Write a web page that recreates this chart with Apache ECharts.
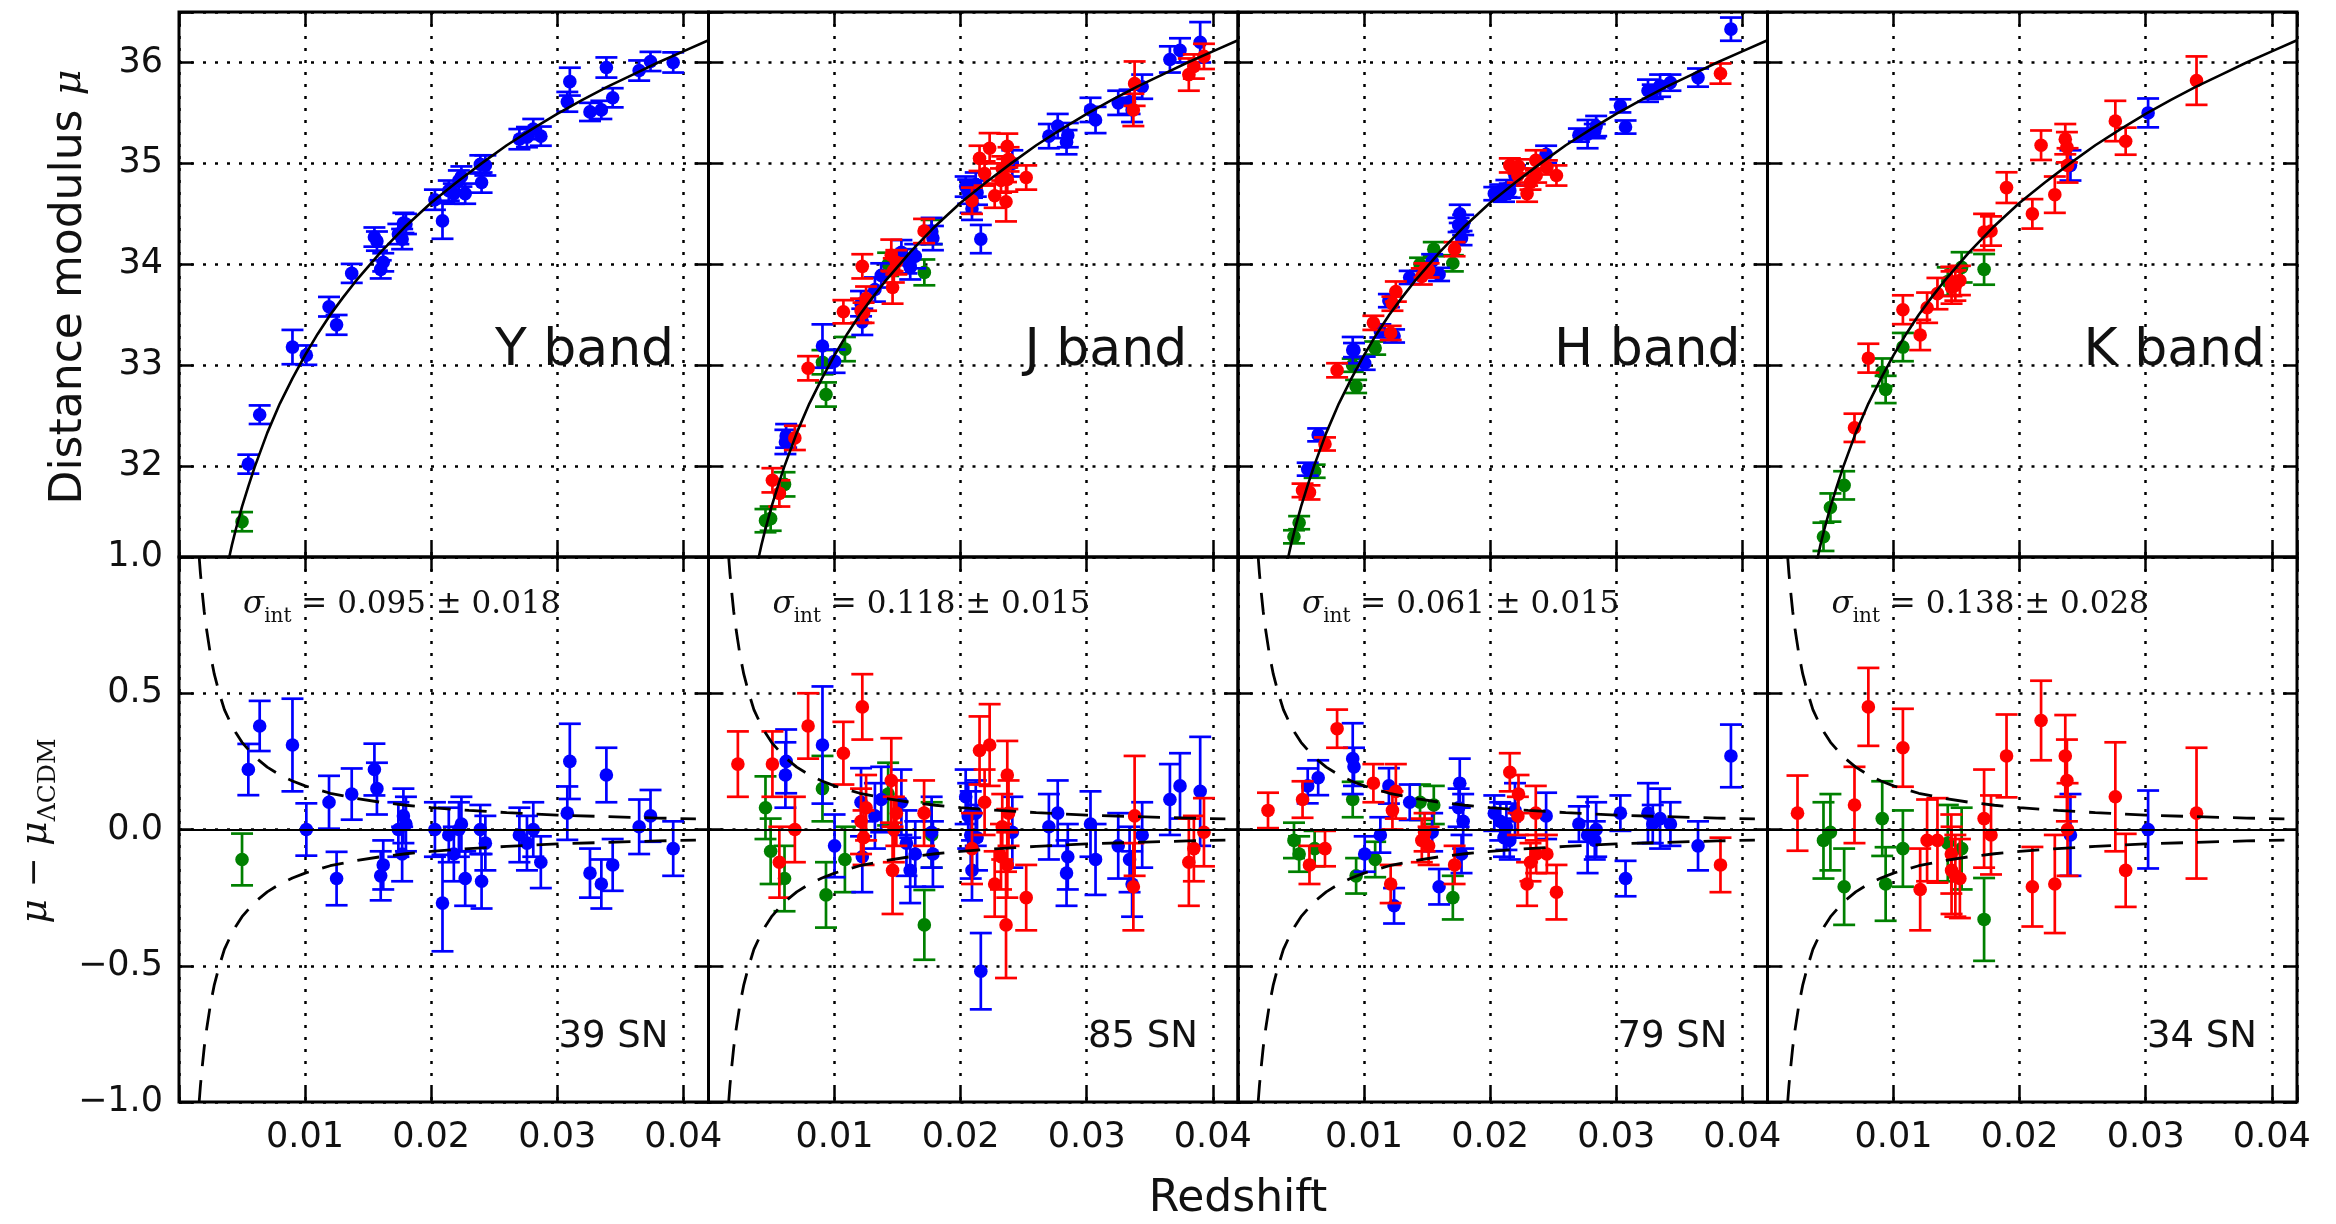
<!DOCTYPE html>
<html><head><meta charset="utf-8">
<script src="https://cdn.jsdelivr.net/npm/echarts@6/dist/echarts.min.js"></script>
<style>html,body{margin:0;padding:0;background:#fff}#c{width:2336px;height:1224px}</style>
</head><body><div id="c"></div>
<script>
// ---------- tick labels ----------
const topTicks = [32, 33, 34, 35, 36];
const resTicks = [-1.0, -0.5, 0.0, 0.5, 1.0];
const zTicks = [0.01, 0.02, 0.03, 0.04];

// ---------- model curves ----------
const modelZ  = [0.0039,0.0042,0.0045,0.005,0.0055,0.006,0.007,0.008,0.009,0.010,0.011,0.012,0.013,0.014,0.016,0.018,0.020,0.022,0.024,0.026,0.028,0.030,0.032,0.034,0.036,0.038,0.040,0.042];
const modelMu = [31.05,31.22,31.37,31.60,31.80,31.99,32.33,32.62,32.87,33.10,33.31,33.50,33.67,33.83,34.12,34.38,34.61,34.81,35.00,35.18,35.34,35.49,35.63,35.76,35.88,36.00,36.11,36.22];
const pecZ  = [0.0016,0.0017,0.0018,0.002,0.0022,0.0025,0.0028,0.0032,0.0036,0.004,0.0045,0.005,0.006,0.007,0.008,0.009,0.010,0.012,0.014,0.016,0.018,0.020,0.023,0.026,0.030,0.034,0.038,0.041];
const pecUp = [1.00,0.94,0.89,0.80,0.73,0.64,0.57,0.50,0.44,0.40,0.356,0.32,0.267,0.229,0.20,0.178,0.16,0.133,0.114,0.10,0.089,0.08,0.07,0.062,0.053,0.047,0.042,0.039];
const pecLo = [-1.00,-0.94,-0.89,-0.80,-0.73,-0.64,-0.57,-0.50,-0.44,-0.40,-0.356,-0.32,-0.267,-0.229,-0.20,-0.178,-0.16,-0.133,-0.114,-0.10,-0.089,-0.08,-0.07,-0.062,-0.053,-0.047,-0.042,-0.039];

// ---------- Y band ----------
const Y_green_z = [0.0050];
const Y_green_mu = [31.45];
const Y_green_res = [-0.11];
const Y_green_err = [0.095];
const Y_blue_z = [0.0055,0.0064,0.0090,0.0101,0.0119,0.0125,0.0137,0.0155,0.0157,0.0160,0.0162,0.0174,0.0177,0.0178,0.0180,0.0203,0.0209,0.0214,0.0218,0.0222,0.0224,0.0227,0.0239,0.0240,0.0243,0.0270,0.0276,0.0281,0.0287,0.0308,0.0310,0.0326,0.0335,0.0339,0.0344,0.0365,0.0374,0.0392];
const Y_blue_res = [0.22,0.38,0.31,0.0,0.10,-0.18,0.13,0.22,0.15,-0.17,-0.13,0.0,-0.09,0.05,0.02,0.0,-0.27,-0.02,-0.09,0.0,0.02,-0.18,0.0,-0.19,-0.05,-0.02,-0.05,0.0,-0.12,0.06,0.25,-0.16,-0.20,0.20,-0.13,0.01,0.05,-0.07];
const Y_blue_mu = [32.02,32.51,33.18,33.10,33.58,33.40,33.91,34.27,34.23,33.95,34.02,34.30,34.25,34.41,34.40,34.64,34.43,34.73,34.70,34.83,34.87,34.70,34.99,34.81,34.98,35.24,35.26,35.34,35.27,35.61,35.81,35.51,35.53,35.95,35.65,35.92,36.01,36.00];
const Y_blue_err = [0.094,0.092,0.17,0.096,0.097,0.098,0.094,0.095,0.095,0.09,0.09,0.1,0.1,0.1,0.1,0.1,0.177,0.1,0.1,0.1,0.1,0.1,0.09,0.1,0.1,0.1,0.1,0.1,0.095,0.098,0.138,0.09,0.09,0.1,0.095,0.1,0.095,0.1];

// ---------- J band ----------
const J_red_z = [0.00233,0.00507,0.00562,0.00685,0.0079,0.0107,0.0121,0.0122,0.0123,0.0125,0.0145,0.0147,0.0146,0.0149,0.0171,0.0209,0.0215,0.0219,0.0223,0.0227,0.0232,0.0233,0.0236,0.0237,0.0237,0.0238,0.0252,0.0337,0.0338,0.0381,0.0385,0.0393];
const J_red_res = [0.24,0.24,-0.12,0.0,0.38,0.28,0.03,0.45,-0.03,0.08,0.18,0.0,-0.15,0.06,0.06,-0.07,0.29,0.10,0.31,-0.20,-0.10,0.01,-0.35,0.20,-0.13,0.06,-0.25,-0.21,0.05,-0.12,-0.07,-0.01];
const J_red_mu = [30.18,31.86,31.73,32.28,32.97,33.53,33.54,33.98,33.52,33.66,34.09,33.94,33.77,34.02,34.33,34.63,35.05,34.90,35.15,34.68,34.83,34.95,34.62,35.17,34.84,35.04,34.86,35.53,35.79,35.88,35.96,36.06];
const J_red_err = [0.12,0.12,0.13,0.12,0.12,0.115,0.12,0.12,0.1,0.12,0.155,0.12,0.16,0.12,0.12,0.13,0.125,0.12,0.15,0.12,0.12,0.12,0.195,0.125,0.12,0.12,0.12,0.16,0.22,0.16,0.12,0.125];
const J_blue_z = [0.0061,0.00616,0.00904,0.0100,0.0121,0.0122,0.0132,0.0137,0.0153,0.0157,0.0160,0.0164,0.0177,0.0178,0.0204,0.0206,0.0208,0.0209,0.0212,0.0213,0.0216,0.0241,0.0270,0.0277,0.0284,0.0285,0.0303,0.0307,0.0325,0.0334,0.0336,0.0344,0.0366,0.0374,0.0390];
const J_blue_res = [0.20,0.25,0.31,-0.06,0.10,-0.10,0.05,0.11,0.10,-0.05,-0.15,-0.09,-0.01,-0.09,0.12,0.05,-0.02,-0.15,0.06,-0.03,-0.52,-0.01,0.01,0.06,-0.16,-0.10,0.02,-0.11,-0.06,-0.11,-0.20,-0.02,0.11,0.16,0.14];
const J_blue_mu = [32.24,32.30,33.19,33.04,33.61,33.43,33.75,33.89,34.12,34.03,33.97,34.08,34.33,34.26,34.77,34.72,34.67,34.55,34.79,34.71,34.25,35.00,35.27,35.37,35.21,35.28,35.53,35.43,35.60,35.61,35.53,35.76,36.03,36.12,36.20];
const J_blue_err = [0.12,0.117,0.215,0.115,0.125,0.13,0.12,0.12,0.12,0.12,0.12,0.12,0.13,0.12,0.10,0.12,0.16,0.11,0.12,0.12,0.14,0.13,0.12,0.12,0.12,0.12,0.12,0.13,0.12,0.12,0.12,0.12,0.13,0.12,0.20];
const J_green_z = [0.00452,0.00493,0.00603,0.00904,0.00932,0.01082,0.01425,0.01712,0.0177];
const J_green_res = [0.08,-0.08,-0.18,0.15,-0.24,-0.11,0.13,-0.35,-0.02];
const J_green_mu = [31.46,31.48,31.82,33.03,32.71,33.16,34.00,33.92,34.32];
const J_green_err = [0.115,0.12,0.12,0.12,0.12,0.12,0.115,0.128,0.12];

// ---------- H band ----------
const H_red_z = [0.00238,0.00512,0.00567,0.0069,0.00786,0.01074,0.01211,0.01225,0.01252,0.0148,0.01458,0.01512,0.01718,0.02156,0.0222,0.02225,0.02293,0.0232,0.02362,0.02365,0.0245,0.02526,0.03827];
const H_red_res = [0.07,0.11,-0.13,-0.07,0.37,0.17,-0.20,0.07,0.14,-0.01,-0.04,-0.06,-0.13,0.21,0.05,0.13,-0.20,-0.12,0.06,-0.09,-0.09,-0.23,-0.13];
const H_red_mu = [30.05,31.76,31.74,32.22,32.95,33.42,33.32,33.61,33.73,33.94,33.88,33.94,34.15,34.98,34.88,34.97,34.70,34.81,35.03,34.88,34.96,34.88,35.89];
const H_red_err = [0.065,0.067,0.07,0.065,0.07,0.07,0.07,0.07,0.10,0.07,0.08,0.07,0.07,0.07,0.07,0.07,0.08,0.07,0.10,0.07,0.07,0.10,0.10];
const H_blue_z = [0.00553,0.00636,0.0091,0.0092,0.01005,0.01129,0.01197,0.01238,0.01362,0.0154,0.01595,0.0175,0.01759,0.01773,0.01786,0.02033,0.0208,0.0211,0.02129,0.02156,0.02197,0.02444,0.02704,0.02773,0.0283,0.02841,0.03033,0.03074,0.0329,0.03252,0.03348,0.0343,0.03649,0.0391];
const H_blue_res = [0.16,0.19,0.26,0.23,-0.09,-0.02,0.16,-0.28,0.10,-0.01,-0.21,0.08,0.17,-0.09,0.03,0.06,0.03,-0.03,0.01,-0.04,0.07,0.05,0.02,-0.02,-0.04,0.0,0.06,-0.18,0.02,0.06,0.04,0.02,-0.06,0.27];
const H_blue_mu = [31.97,32.31,33.15,33.15,33.02,33.34,33.64,33.29,33.87,34.03,33.90,34.39,34.50,34.26,34.39,34.70,34.72,34.69,34.75,34.73,34.88,35.09,35.28,35.29,35.32,35.37,35.57,35.36,35.71,35.72,35.77,35.80,35.85,36.33];
const H_blue_err = [0.064,0.064,0.13,0.07,0.065,0.065,0.065,0.065,0.065,0.07,0.065,0.07,0.09,0.07,0.10,0.065,0.07,0.07,0.085,0.07,0.10,0.085,0.065,0.14,0.07,0.10,0.065,0.065,0.07,0.11,0.11,0.08,0.09,0.115];
const H_green_z = [0.00444,0.00485,0.00608,0.0091,0.00937,0.01088,0.01444,0.01553,0.01704];
const H_green_res = [-0.04,-0.09,-0.07,0.11,-0.17,-0.11,0.10,0.09,-0.25];
const H_green_mu = [31.30,31.44,31.95,33.00,32.79,33.17,34.00,34.15,34.01];
const H_green_err = [0.065,0.065,0.065,0.065,0.065,0.065,0.065,0.07,0.08];

// ---------- K band ----------
const K_red_z = [0.00238,0.0069,0.0080,0.01074,0.01211,0.01266,0.01348,0.01458,0.0146,0.0149,0.01526,0.01718,0.01773,0.01896,0.02101,0.0217,0.02279,0.02362,0.02375,0.0238,0.02759,0.02841,0.03403];
const K_red_res = [0.06,0.09,0.45,0.30,-0.22,-0.04,-0.04,-0.09,-0.15,-0.17,-0.18,0.04,-0.02,0.27,-0.21,0.40,-0.20,0.27,0.18,0.0,0.12,-0.15,0.06];
const K_red_mu = [30.04,32.38,33.07,33.55,33.30,33.57,33.71,33.83,33.77,33.79,33.84,34.32,34.33,34.76,34.50,35.18,34.69,35.24,35.16,34.98,35.42,35.22,35.82];
const K_red_err = [0.138,0.14,0.143,0.143,0.15,0.15,0.155,0.145,0.16,0.15,0.145,0.18,0.145,0.152,0.146,0.146,0.18,0.15,0.15,0.17,0.20,0.134,0.24];
const K_blue_z = [0.02403,0.03019];
const K_blue_res = [-0.02,0.0];
const K_blue_mu = [34.98,35.50];
const K_blue_err = [0.15,0.143];
const K_green_z = [0.00444,0.00499,0.00608,0.0091,0.00937,0.01074,0.0143,0.0154,0.01718];
const K_green_res = [-0.04,-0.01,-0.21,0.04,-0.20,-0.07,-0.05,-0.07,-0.33];
const K_green_mu = [31.30,31.59,31.81,32.93,32.76,33.18,33.83,33.97,33.95];
const K_green_err = [0.14,0.14,0.14,0.137,0.135,0.14,0.14,0.15,0.152];

const bandNames = ['Y band', 'J band', 'H band', 'K band'];
const snCounts = ['39 SN', '85 SN', '79 SN', '34 SN'];
const sigmaText = ['0.095 ± 0.018', '0.118 ± 0.015', '0.061 ± 0.015', '0.138 ± 0.028'];

const GREEN = '#008000', BLUE = '#0000ff', RED = '#ff0000';
const bands = [
  [{c: GREEN, z: Y_green_z, mu: Y_green_mu, res: Y_green_res, err: Y_green_err},
   {c: BLUE, z: Y_blue_z, mu: Y_blue_mu, res: Y_blue_res, err: Y_blue_err}],
  [{c: GREEN, z: J_green_z, mu: J_green_mu, res: J_green_res, err: J_green_err},
   {c: BLUE, z: J_blue_z, mu: J_blue_mu, res: J_blue_res, err: J_blue_err},
   {c: RED, z: J_red_z, mu: J_red_mu, res: J_red_res, err: J_red_err}],
  [{c: GREEN, z: H_green_z, mu: H_green_mu, res: H_green_res, err: H_green_err},
   {c: BLUE, z: H_blue_z, mu: H_blue_mu, res: H_blue_res, err: H_blue_err},
   {c: RED, z: H_red_z, mu: H_red_mu, res: H_red_res, err: H_red_err}],
  [{c: GREEN, z: K_green_z, mu: K_green_mu, res: K_green_res, err: K_green_err},
   {c: BLUE, z: K_blue_z, mu: K_blue_mu, res: K_blue_res, err: K_blue_err},
   {c: RED, z: K_red_z, mu: K_red_mu, res: K_red_res, err: K_red_err}]
];

// ---------- layout ----------
const L0 = 179, PW = 529.5, T0 = 12, PH = 545;
const FONT = 'DejaVu Sans';
const near = (arr, v) => arr.some(t => Math.abs(t - v) < 1e-6);

function errRender(color) {
  return function (params, api) {
    const x = api.value(0), y = api.value(1), e = api.value(2);
    const p = api.coord([x, y]), hi = api.coord([x, y + e]), lo = api.coord([x, y - e]);
    const cw = 11;
    const st = {stroke: color, lineWidth: 2.7};
    return {type: 'group', children: [
      {type: 'line', shape: {x1: p[0], y1: hi[1], x2: p[0], y2: lo[1]}, style: st},
      {type: 'line', shape: {x1: p[0] - cw, y1: hi[1], x2: p[0] + cw, y2: hi[1]}, style: st},
      {type: 'line', shape: {x1: p[0] - cw, y1: lo[1], x2: p[0] + cw, y2: lo[1]}, style: st},
      {type: 'circle', shape: {cx: p[0], cy: p[1], r: 6.8}, style: {fill: color}}
    ]};
  };
}

const grid = [], xAxis = [], yAxis = [], series = [], graphic = [];
const tickStyle = {inside: true, length: 14, lineStyle: {color: '#000', width: 2.5}};
const gridLine = {show: true, lineStyle: {color: '#000', width: 2.5, type: [3, 9]}};

for (let row = 0; row < 2; row++) {
  for (let col = 0; col < 4; col++) {
    const g = row * 4 + col;
    grid.push({left: L0 + col * PW, top: T0 + row * PH, width: PW, height: PH,
      show: true, borderColor: '#000', borderWidth: 3, backgroundColor: 'transparent'});
    const xBase = {type: 'value', gridIndex: g, min: 0, max: 0.042, interval: 0.01,
      axisLine: {show: false, onZero: false}, axisTick: tickStyle};
    xAxis.push(Object.assign({}, xBase, {position: 'bottom', splitLine: gridLine,
      axisLabel: {show: row === 1, margin: 18, fontFamily: FONT, fontSize: 35, color: '#111',
        formatter: v => near(zTicks, v) ? v.toFixed(2) : ''}}));
    xAxis.push(Object.assign({}, xBase, {position: 'top', splitLine: {show: false}, axisLabel: {show: false}}));
    const yBase = row === 0
      ? {type: 'value', gridIndex: g, min: 31.1, max: 36.5, splitNumber: 5}
      : {type: 'value', gridIndex: g, min: -1, max: 1, interval: 0.5};
    Object.assign(yBase, {axisLine: {show: false, onZero: false}, axisTick: tickStyle});
    const fmt = row === 0
      ? (v => near(topTicks, v) ? String(Math.round(v)) : '')
      : (v => near(resTicks, v) ? v.toFixed(1).replace('-', '\u2212') : '');
    yAxis.push(Object.assign({}, yBase, {position: 'left', splitLine: gridLine,
      axisLabel: {show: col === 0, margin: 16, fontFamily: FONT, fontSize: 35, color: '#111', formatter: fmt}}));
    yAxis.push(Object.assign({}, yBase, {position: 'right', splitLine: {show: false}, axisLabel: {show: false}}));

    const xi = 2 * g, yi = 2 * g;
    bands[col].forEach(gr => {
      const n = Math.min(gr.z.length, gr.err.length, row === 0 ? gr.mu.length : gr.res.length);
      const data = [];
      for (let i = 0; i < n; i++) data.push([gr.z[i], row === 0 ? gr.mu[i] : gr.res[i], gr.err[i]]);
      series.push({type: 'custom', xAxisIndex: xi, yAxisIndex: yi, clip: true, z: 3,
        renderItem: errRender(gr.c), data: data, encode: {x: 0, y: 1}, silent: true});
    });
    if (row === 0) {
      series.push({type: 'line', xAxisIndex: xi, yAxisIndex: yi, showSymbol: false, smooth: false,
        clip: true, z: 5, silent: true,
        lineStyle: {color: '#000', width: 2.6},
        data: modelZ.map((v, i) => [v, modelMu[i]])});
    } else {
      series.push({type: 'line', xAxisIndex: xi, yAxisIndex: yi, showSymbol: false, smooth: false,
        clip: true, z: 5, silent: true,
        lineStyle: {color: '#000', width: 2.8, type: [22, 14]},
        data: pecZ.map((v, i) => [v, pecUp[i]]),
        markLine: {silent: true, symbol: 'none', label: {show: false}, z: 4,
          lineStyle: {color: '#000', width: 2, type: 'solid'}, data: [{yAxis: 0}]}});
      series.push({type: 'line', xAxisIndex: xi, yAxisIndex: yi, showSymbol: false, smooth: false,
        clip: true, z: 5, silent: true,
        lineStyle: {color: '#000', width: 2.8, type: [22, 14]},
        data: pecZ.map((v, i) => [v, pecLo[i]])});
    }
  }
}

for (let col = 0; col < 4; col++) {
  const left = L0 + col * PW;
  graphic.push({type: 'text', x: left + 316, y: 351, z: 100, silent: true,
    style: {text: bandNames[col], fontFamily: FONT, fontSize: 52, fill: '#111', align: 'left', verticalAlign: 'middle'}});
  graphic.push({type: 'text', x: left + PW - 40, y: 1037, z: 100, silent: true,
    style: {text: snCounts[col], fontFamily: FONT, fontSize: 37, fill: '#111', align: 'right', verticalAlign: 'middle'}});
  graphic.push({type: 'text', x: left + 64, y: 605, z: 100, silent: true,
    style: {text: '{s|σ}{i|int}{t| = ' + sigmaText[col] + '}', align: 'left', verticalAlign: 'middle',
      rich: {
        s: {fontFamily: 'DejaVu Serif', fontStyle: 'italic', fontSize: 31, lineHeight: 44, fill: '#111'},
        i: {fontFamily: 'DejaVu Serif', fontSize: 20, lineHeight: 20, verticalAlign: 'bottom', fill: '#111'},
        t: {fontFamily: 'DejaVu Serif', fontSize: 31, lineHeight: 44, fill: '#111'}
      }}});
}
graphic.push({type: 'text', x: 70, y: 287, rotation: Math.PI / 2, z: 100, silent: true,
  style: {text: '{a|Distance modulus }{m|μ}', align: 'center', verticalAlign: 'middle',
    rich: {a: {fontFamily: FONT, fontSize: 44, lineHeight: 50, fill: '#111'},
           m: {fontFamily: 'DejaVu Serif', fontStyle: 'italic', fontSize: 40, lineHeight: 50, fill: '#111'}}}});
graphic.push({type: 'text', x: 36, y: 831, rotation: Math.PI / 2, z: 100, silent: true,
  style: {text: '{m|μ}{a| − }{m|μ}{s|ΛCDM}', align: 'center', verticalAlign: 'middle',
    rich: {m: {fontFamily: 'DejaVu Serif', fontStyle: 'italic', fontSize: 38, lineHeight: 50, fill: '#111'},
           a: {fontFamily: 'DejaVu Serif', fontSize: 36, lineHeight: 50, fill: '#111'},
           s: {fontFamily: 'DejaVu Serif', fontSize: 25, lineHeight: 25, verticalAlign: 'bottom', fill: '#111'}}}});
graphic.push({type: 'text', x: 1238, y: 1200, z: 100, silent: true,
  style: {text: 'Redshift', fontFamily: FONT, fontSize: 44, fill: '#111', align: 'center', verticalAlign: 'middle'}});

const chart = echarts.init(document.getElementById('c'), null, {renderer: 'canvas'});
chart.setOption({animation: false, backgroundColor: '#fff', grid, xAxis, yAxis, series, graphic});
</script></body></html>
